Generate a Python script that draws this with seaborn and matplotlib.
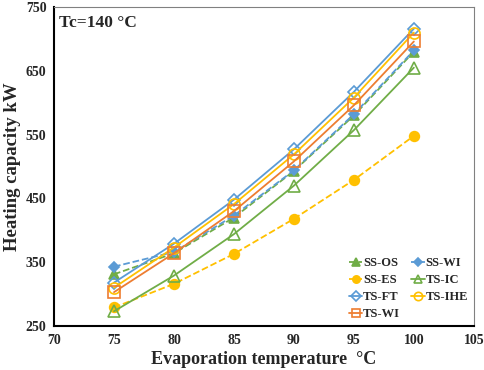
import numpy as np
import pandas as pd
import matplotlib
matplotlib.use("Agg")
import matplotlib.pyplot as plt
import seaborn as sns

temps = [75, 80, 85, 90, 95, 100]
ss_os = [331, 364, 420, 493, 580, 680]
ss_wi = [343, 366, 423, 494, 582, 682]
ss_es = [279, 316, 363, 418, 479, 548]
ts_ic = [273, 329, 394, 470, 557, 655]
ts_ft = [318, 379, 448, 527, 617, 716]
ts_ihe = [310, 373, 441, 519, 608, 710]
ts_wi = [303, 364, 430, 508, 596, 696]

series_names = ["SS-OS", "SS-WI", "SS-ES", "TS-IC", "TS-FT", "TS-IHE", "TS-WI"]
series_vals = [ss_os, ss_wi, ss_es, ts_ic, ts_ft, ts_ihe, ts_wi]
x_ticks = [70, 75, 80, 85, 90, 95, 100, 105]
y_ticks = [250, 350, 450, 550, 650, 750]

blue = "#5B9BD5"
orange = "#ED7D31"
yellow = "#FFC000"
green = "#70AD47"

styles = {
    "SS-OS": dict(color=green, marker="^", ls="--", filled=True, ms=7),
    "SS-WI": dict(color=blue, marker="D", ls="--", filled=True, ms=5.5),
    "SS-ES": dict(color=yellow, marker="o", ls="--", filled=True, ms=7),
    "TS-IC": dict(color=green, marker="^", ls="-", filled=False, ms=8),
    "TS-FT": dict(color=blue, marker="D", ls="-", filled=False, ms=6.5),
    "TS-IHE": dict(color=yellow, marker="o", ls="-", filled=False, ms=8),
    "TS-WI": dict(color=orange, marker="s", ls="-", filled=False, ms=8),
}

sns.set_theme(style="white")
plt.rcParams["font.family"] = ["Liberation Serif", "DejaVu Serif"]
plt.rcParams["font.weight"] = "bold"

fig = plt.figure(figsize=(4.84, 3.70), dpi=100)
ax = fig.add_axes([0.1116, 0.119, 0.8674, 0.862])

handles = {}
for name, vals in zip(series_names, series_vals):
    st = styles[name]
    df = pd.DataFrame({"x": temps, "y": vals})
    sns.lineplot(data=df, x="x", y="y", ax=ax, color=st["color"], linestyle=st["ls"],
                 linewidth=1.3, marker=st["marker"], markersize=st["ms"],
                 markerfacecolor=st["color"] if st["filled"] else "none",
                 markeredgecolor=st["color"], markeredgewidth=1.2, label=name,
                 legend=False, zorder=3)
    handles[name] = ax.lines[-1]

ax.set_xlim(70, 105)
ax.set_ylim(250, 750)
ax.set_xticks(x_ticks)
ax.set_yticks(y_ticks)
ax.set_xticklabels([str(t) for t in x_ticks], fontsize=10, fontweight="bold")
ax.set_yticklabels([str(t) for t in y_ticks], fontsize=10, fontweight="bold")
ax.tick_params(axis="both", direction="inout", length=7, width=1.3, color="black", pad=2)
ax.set_xlabel("Evaporation temperature  \u00b0C", fontsize=13, fontweight="bold", labelpad=3)
ax.set_ylabel("Heating capacity kW", fontsize=13.5, fontweight="bold", labelpad=3)

for s in ["left", "bottom"]:
    ax.spines[s].set_color("black")
    ax.spines[s].set_linewidth(1.5)
for s in ["top", "right"]:
    ax.spines[s].set_color("#808080")
    ax.spines[s].set_linewidth(0.8)

ax.text(0.012, 0.975, "Tc=140 \u00b0C", transform=ax.transAxes, fontsize=12.5,
        fontweight="bold", va="top", ha="left")

order = ["SS-OS", "SS-ES", "TS-FT", "TS-WI", "SS-WI", "TS-IC", "TS-IHE"]
leg = ax.legend([handles[n] for n in order], order, ncol=2, loc="lower right",
                bbox_to_anchor=(1.0, 0.0), frameon=False,
                prop={"family": "Liberation Serif", "weight": "bold", "size": 9},
                handlelength=1.1, handletextpad=0.05, columnspacing=0.9,
                labelspacing=0.4, borderaxespad=0.25, borderpad=0.2, markerscale=0.75)

fig.savefig("out.png", dpi=100)
